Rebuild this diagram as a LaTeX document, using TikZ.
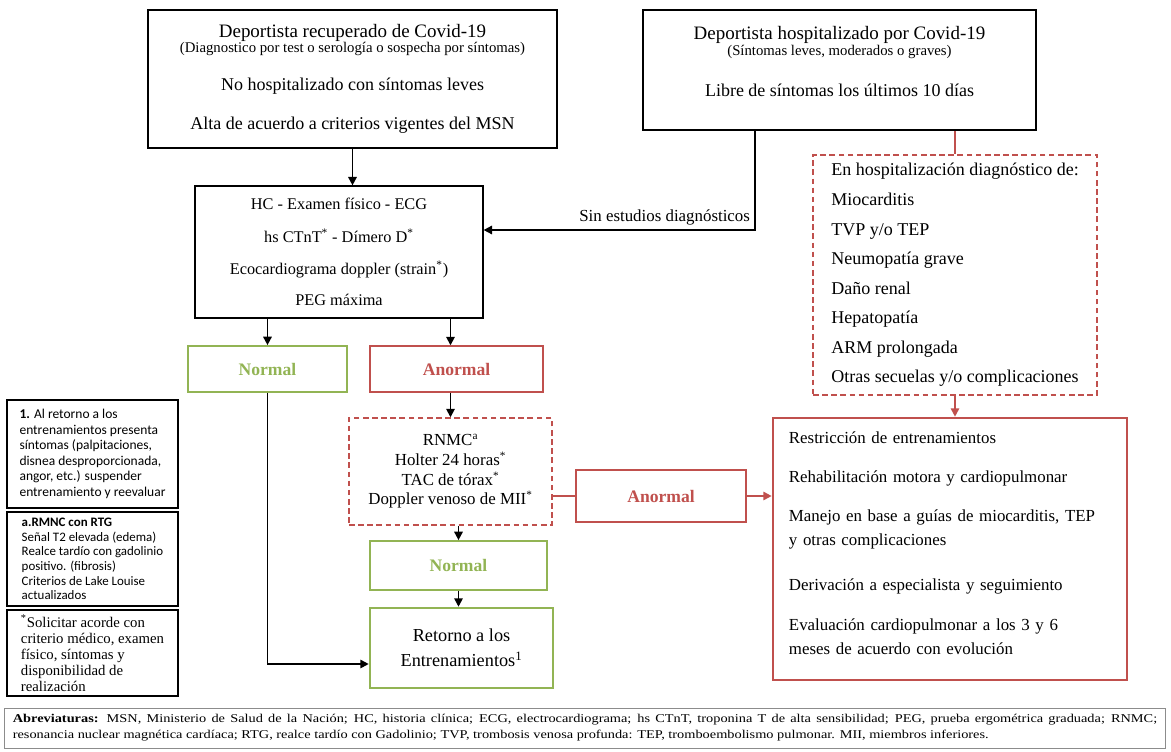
\documentclass[tikz,border=0pt]{standalone}
\usepackage{fontspec}
\setmainfont{Liberation Serif}
\newfontfamily\notefont{Carlito}
\newfontfamily\abbrfont[FakeStretch=1.2]{Liberation Serif}
\usetikzlibrary{arrows.meta,positioning}

\definecolor{okgreen}{RGB}{146,180,84}
\definecolor{badred}{RGB}{192,80,77}
\newcommand{\subtxt}[1]{{\fontsize{10.5}{12}\selectfont #1}}
\newcommand{\bigtxt}[1]{{\fontsize{13.5}{15}\selectfont #1}}

\tikzset{
  blackbox/.style={draw, line width=1.6pt, align=center, font=\fontsize{12.8}{14}\selectfont},
  plainbox/.style={draw, line width=0.8pt, align=center, font=\fontsize{11.6}{14}\selectfont},
  greenbox/.style={draw=okgreen, line width=1.2pt, text=okgreen, font=\bfseries\fontsize{12.5}{14}\selectfont},
  redbox/.style={draw=badred, line width=1pt, text=badred, font=\bfseries\fontsize{12.5}{14}\selectfont},
  reddash/.style={draw=badred, line width=1pt, dash pattern=on 4pt off 2.5pt, font=\fontsize{12}{14}\selectfont},
  notebox/.style={draw, line width=1.2pt, align=left, minimum width=4.275cm, inner ysep=2pt,
    font=\notefont\fontsize{9.2}{10.4}\selectfont},
  flow/.style={-{Triangle[length=6pt,width=6pt]}, line width=1.2pt},
  redflow/.style={flow, draw=badred, fill=badred},
}

\begin{document}
\begin{tikzpicture}[x=0.025cm, y=-0.025cm]
\useasboundingbox (0,0) rectangle (1171,751);

% Starting boxes
\node[blackbox, minimum width=10.225cm, minimum height=3.45cm] (recup) at (352.5,79)
  {\bigtxt{Deportista recuperado de Covid-19}\\[-3.4pt]
   \subtxt{(Diagnostico por test o serología o sospecha por síntomas)}\\[13pt]
   No hospitalizado con síntomas leves\\[13.6pt]
   Alta de acuerdo a criterios vigentes del MSN};
\node[blackbox, minimum width=9.825cm, minimum height=3cm] (hosp) at (839.5,70)
  {\bigtxt{Deportista hospitalizado por Covid-19}\\[-2.4pt]
   \subtxt{(Síntomas leves, moderados o graves)}\\[15pt]
   Libre de síntomas los últimos 10 días\\[-1.2pt]\mbox{}};

% First evaluation
\node[plainbox, minimum width=7.2cm, minimum height=3.3cm] (eval) at (339,252)
  {HC - Examen físico - ECG\\[9pt]
   hs CTnT\textsuperscript{*} - Dímero D\textsuperscript{*}\\[9pt]
   Ecocardiograma doppler (strain\textsuperscript{*})\\[8pt]
   PEG máxima};

% Hospital diagnoses
\node[reddash, minimum width=7.1cm, minimum height=6cm, align=left,
  font=\fontsize{12.8}{14}\selectfont] (diag) at (955,275)
  {En hospitalización diagnóstico de:\\[7pt]
   Miocarditis\\[7pt]
   TVP y/o TEP\\[7pt]
   Neumopatía grave\\[7pt]
   Daño renal\\[7pt]
   Hepatopatía\\[7pt]
   ARM prolongada\\[7pt]
   Otras secuelas y/o complicaciones};

% Results of the first evaluation
\node[greenbox, minimum width=3.975cm, minimum height=1.15cm] (norm1) at (267.5,369) {Normal};
\node[redbox, minimum width=4.325cm, minimum height=1.15cm] (anorm1) at (456.5,369) {Anormal};

% Further studies
\node[reddash, minimum width=5.075cm, minimum height=2.675cm, align=center] (studies) at (450.5,471.5)
  {RNMC\textsuperscript{a}\\[0pt]
   Holter 24 horas\textsuperscript{*}\\[0pt]
   TAC de tórax\textsuperscript{*}\\[0pt]
   Doppler venoso de MII\textsuperscript{*}};
\node[redbox, minimum width=4.25cm, minimum height=1.3cm] (anorm2) at (661,496) {Anormal};
\node[greenbox, minimum width=4.425cm, minimum height=1.225cm] (norm2) at (458.5,565.5) {Normal};

% Return to training
\node[draw=okgreen, line width=1.8pt, minimum width=4.575cm, minimum height=2cm, align=center,
  font=\fontsize{13}{17.7}\selectfont] (retorno) at (461.5,648)
  {Retorno a los\\Entrenamientos\textsuperscript{1}};

% Management box
\node[draw=badred, line width=1.8pt, minimum width=8.85cm, minimum height=6.55cm, inner xsep=0.4cm,
  text width=8.05cm, align=left, font=\fontsize{12}{17}\selectfont] (manejo) at (950,549)
  {Restricción de entrenamientos\\[11pt]
   Rehabilitación motora y cardiopulmonar\\[11pt]
   Manejo en base a guías de miocarditis, TEP\\
   y otras complicaciones\\[15pt]
   Derivación a especialista y seguimiento\\[11pt]
   Evaluación cardiopulmonar a los 3 y 6\\
   meses de acuerdo con evolución\\[-8pt]\mbox{}};

% Notes on the left
\node[notebox, minimum height=2.7cm, font=\notefont\fontsize{9.6}{11}\selectfont] (note1) at (92.5,454)
  {\textbf{1.} Al retorno a los\\ entrenamientos presenta\\ síntomas (palpitaciones,\\
   disnea desproporcionada,\\ angor, etc.) suspender\\ entrenamiento y reevaluar};
\node[notebox, minimum height=2.35cm] (note2) at (92.5,559)
  {\textbf{a.RMNC con RTG}\\ Señal T2 elevada (edema)\\ Realce tardío con gadolinio\\
   positivo. (fibrosis)\\ Criterios de Lake Louise\\ actualizados};
\node[notebox, minimum height=2.15cm, font=\fontsize{10.5}{11.4}\selectfont] (note3) at (92.5,653)
  {\textsuperscript{*}Solicitar acorde con\\ criterio médico, examen\\ físico, síntomas y\\
   disponibilidad de\\ realización\hspace{1.1cm}};

% Abbreviations
\node[draw=black!45, line width=0.6pt, minimum width=29cm, minimum height=1cm, inner xsep=0.2cm,
  text width=28.6cm, align=justify, font=\abbrfont\fontsize{8.5}{11.5}\selectfont] (abrev) at (585,728)
  {\textbf{Abreviaturas:} MSN, Ministerio de Salud de la Nación; HC, historia clínica; ECG, electrocardiograma; hs CTnT, troponina T de alta sensibilidad; PEG, prueba ergométrica graduada; RNMC;\linebreak
   resonancia nuclear magnética cardíaca; RTG, realce tardío con Gadolinio; TVP, trombosis venosa profunda: TEP, tromboembolismo pulmonar. MII, miembros inferiores.};

% Connectors
\coordinate (bturn) at (755,230);
\draw[flow] (recup.south) -- (recup.south |- eval.north);
\draw[flow] (hosp.south -| bturn) -- (bturn)
  node[above left, inner sep=3pt, font=\fontsize{12}{14}\selectfont] (sinest) {Sin estudios diagnósticos}
  -- (bturn -| eval.east);
\draw[badred, line width=1.1pt] (hosp.south -| diag.north) -- (diag.north);
\draw[redflow] (diag.south) -- (diag.south |- manejo.north);
\draw[flow] (eval.south -| norm1.north) -- (norm1.north);
\draw[flow] (eval.south -| studies.north) -- (studies.north |- anorm1.north);
\draw[flow] (anorm1.south -| studies.north) -- (studies.north);
\draw[badred, line width=1.1pt] (anorm2.west -| studies.east) -- (anorm2.west);
\draw[redflow] (anorm2.east) -- (anorm2.east -| manejo.west);
\draw[flow] (studies.south -| norm2.north) -- (norm2.north);
\draw[flow] (norm2.south) -- (norm2.south |- retorno.north);
\draw[flow] (norm1.south) |- ([yshift=-0.4cm]retorno.west);
\end{tikzpicture}
\end{document}
